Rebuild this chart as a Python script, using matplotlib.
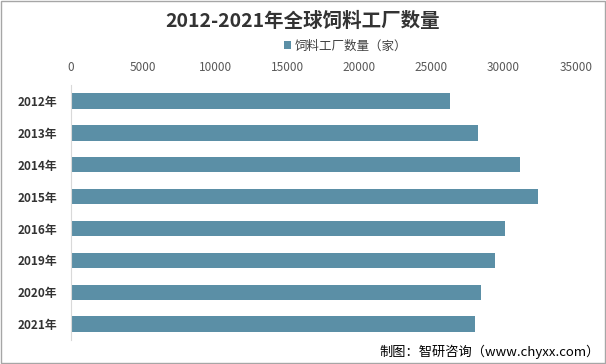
import matplotlib.pyplot as plt
from matplotlib.patches import Rectangle

plt.rcParams['font.family'] = ['Noto Sans CJK SC', 'DejaVu Sans']

anos = ["2012年", "2013年", "2014年", "2015年", "2016年", "2019年", "2020年", "2021年"]
fabricas = [26300, 28240, 31110, 32420, 30120, 29420, 28450, 28050]
ticks_x = [0, 5000, 10000, 15000, 20000, 25000, 30000, 35000]

cor = "#5b8fa6"

fig = plt.figure(figsize=(6.06, 3.64), dpi=100)
ax = fig.add_axes([0.117, 0.066, 0.833, 0.700])

ax.barh(range(len(anos)), fabricas, height=0.48, color=cor, label="饲料工厂数量（家）")
ax.set_ylim(len(anos) - 0.5, -0.5)
ax.set_xlim(0, 35000)
ax.set_yticks(range(len(anos)))
ax.set_yticklabels(anos, fontsize=8.5, fontweight="bold", color="#333333")
ax.set_xticks(ticks_x)
ax.set_xticklabels([str(t) for t in ticks_x], fontsize=8.5, color="#595959")
ax.xaxis.tick_top()
ax.tick_params(axis="both", length=0)
ax.tick_params(axis="x", pad=8)
ax.tick_params(axis="y", pad=10)
for s in ["top", "right", "bottom"]:
    ax.spines[s].set_visible(False)
ax.spines["left"].set_color("#d9d9d9")

fig.text(0.5, 0.94, "2012-2021年全球饲料工厂数量", ha="center", va="center",
         fontsize=14, fontweight="bold", color="#333333")
fig.legend(loc="center", bbox_to_anchor=(0.57, 0.873), frameon=False, fontsize=9,
           handlelength=0.6, handleheight=0.6, handletextpad=0.3, labelcolor="#404040")
fig.text(0.99, 0.033, "制图：智研咨询（www.chyxx.com）", ha="right", va="center",
         fontsize=9.5, color="#000000")

fig.patches.append(Rectangle((0.001, 0.002), 0.997, 0.995, transform=fig.transFigure,
                             fill=False, edgecolor="#a6a6a6", linewidth=1))

plt.savefig("out.png")
